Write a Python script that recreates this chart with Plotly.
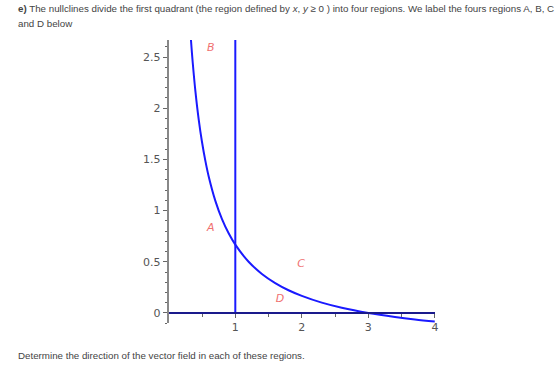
import plotly.graph_objects as go

# Curve (nullcline) points
curve_x = [0.333, 0.36, 0.4, 0.45, 0.5, 0.55, 0.6, 0.7, 0.8, 0.9, 1.0, 1.2, 1.4,
           1.6, 1.8, 2.0, 2.3, 2.6, 3.0, 3.4, 3.7, 4.0]
curve_y = [2.67, 2.444, 2.167, 1.889, 1.667, 1.485, 1.333, 1.095, 0.917, 0.778,
           0.667, 0.5, 0.381, 0.292, 0.222, 0.167, 0.101, 0.051, 0.0, -0.039,
           -0.063, -0.083]
# Vertical nullcline x = 1
vline_x = [1, 1]
vline_y = [0, 2.666]

# Region labels
region_names = ["B", "A", "C", "D"]
region_x = [0.63, 0.63, 1.99, 1.67]
region_y = [2.59, 0.83, 0.48, 0.13]

y_ticks = [0, 0.5, 1, 1.5, 2, 2.5]
y_ticktext = ["0", "0.5", "1", "1.5", "2", "2.5"]
x_ticks = [1, 2, 3, 4]

blue = "#1a1aff"
fig = go.Figure()
fig.add_trace(go.Scatter(x=curve_x, y=curve_y, mode="lines",
                         line=dict(color=blue, width=2, shape="spline"),
                         hoverinfo="skip", showlegend=False))
fig.add_trace(go.Scatter(x=vline_x, y=vline_y, mode="lines",
                         line=dict(color=blue, width=2),
                         hoverinfo="skip", showlegend=False))
fig.add_trace(go.Scatter(x=region_x, y=region_y, mode="text",
                         text=["<i>%s</i>" % n for n in region_names],
                         textfont=dict(family="DejaVu Sans", size=11, color="#f07070"),
                         hoverinfo="skip", showlegend=False))

W, H = 560, 370
x0_px, x1_px = 170, 438
ytop_px, ybot_px = 40, 323.2
y0_px = 313

fig.update_layout(
    width=W, height=H, margin=dict(l=0, r=0, t=0, b=0),
    paper_bgcolor="white", plot_bgcolor="white",
    xaxis=dict(range=[0, 4], domain=[x0_px / W, x1_px / W],
               anchor="free", position=1 - y0_px / H,
               showline=True, linecolor="#1a1a8c", linewidth=2,
               showgrid=False, zeroline=False,
               tickvals=x_ticks, ticks="outside", ticklen=4, tickcolor="#666",
               tickfont=dict(family="DejaVu Sans", size=11, color="#555"),
               minor=dict(tickvals=[0.5, 1.5, 2.5, 3.5], ticks="outside",
                          ticklen=3, tickcolor="#666")),
    yaxis=dict(range=[-0.1, 2.666],
               domain=[1 - ybot_px / H, 1 - ytop_px / H],
               showline=True, linecolor="#888", linewidth=2,
               showgrid=False, zeroline=False,
               tickvals=y_ticks, ticktext=y_ticktext, ticks="outside",
               ticklen=4, tickcolor="#666",
               tickfont=dict(family="DejaVu Sans", size=11, color="#555"),
               minor=dict(dtick=0.1, tick0=0, ticks="outside", ticklen=2,
                          tickcolor="#666")),
)

txt_font = dict(family="Liberation Sans", size=9.75, color="#444")
fig.add_annotation(xref="paper", yref="paper", x=16 / W, y=1 - 8 / H,
                   xanchor="left", yanchor="middle", showarrow=False, font=txt_font,
                   text="<b>e)</b> The nullclines divide the first quadrant (the region defined by "
                        "<i>x</i>, <i>y</i> ≥ 0 ) into four regions. We label the fours regions A, B, C")
fig.add_annotation(xref="paper", yref="paper", x=16 / W, y=1 - 23 / H,
                   xanchor="left", yanchor="middle", showarrow=False, font=txt_font,
                   text="and D below")
fig.add_annotation(xref="paper", yref="paper", x=16 / W, y=1 - 355 / H,
                   xanchor="left", yanchor="middle", showarrow=False, font=txt_font,
                   text="Determine the direction of the vector field in each of these regions.")

fig.write_html("out.html")
